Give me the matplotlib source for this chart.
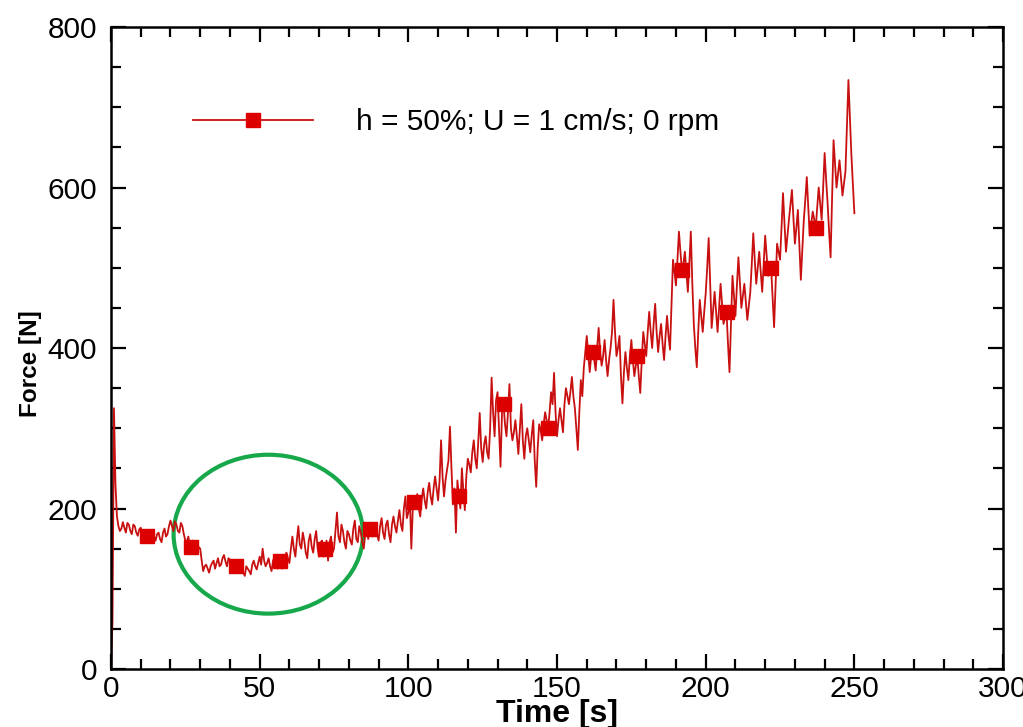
import numpy as np
import matplotlib.pyplot as plt
from matplotlib.patches import Ellipse
from matplotlib.ticker import MultipleLocator

plt.rcParams["font.family"] = ["Liberation Sans", "DejaVu Sans"]

# force readings on whole seconds, t = 0 ... 250 s
force_n = [
    0, 325, 190, 172, 183, 170, 180, 168, 178, 166,
    176, 160, 166, 158, 172, 160, 170, 158, 175, 168,
    185, 172, 180, 170, 178, 160, 165, 152, 158, 145,
    150, 122, 130, 120, 132, 125, 138, 130, 142, 128,
    136, 124, 128, 120, 130, 116, 125, 118, 135, 124,
    140, 150, 128, 138, 122, 140, 125, 134, 128, 145,
    132, 165, 140, 178, 150, 160, 138, 168, 145, 172,
    140, 160, 150, 135, 165, 150, 195, 158, 172, 150,
    168, 155, 185, 158, 170, 150, 178, 174, 165, 180,
    160, 188, 162, 185, 158, 190, 170, 198, 172, 215,
    195, 150, 208, 218, 190, 225, 200, 232, 205, 240,
    210, 285, 215, 248, 302, 205, 170, 215, 250, 198,
    262, 245, 285, 250, 319, 258, 290, 262, 363, 290,
    345, 252, 330, 290, 355, 285, 310, 268, 330, 262,
    300, 270, 310, 227, 305, 285, 320, 300, 345, 369,
    290, 325, 295, 350, 330, 364, 325, 273, 360, 375,
    415, 370, 395, 372, 425, 378, 410, 365, 400, 460,
    390, 415, 331, 395, 360, 410, 365, 390, 344, 420,
    390, 445, 400, 455, 395, 430, 385, 440, 398, 510,
    478, 545, 497, 520, 470, 545, 430, 376, 460, 420,
    468, 537, 425, 470, 420, 480, 430, 445, 370, 490,
    440, 513, 450, 480, 435, 470, 543, 480, 520, 470,
    540, 490, 500, 426, 530, 510, 593, 520, 560, 597,
    530, 572, 485, 560, 613, 540, 570, 550, 600, 560,
    643, 580, 513, 659, 600, 634, 590, 620, 734, 640,
    568,
]

# force readings on the half seconds, t = 0.5 ... 249.5 s
force_half_n = [
    60, 230, 178, 175, 176, 182, 172, 180, 170, 174,
    168, 170, 172, 166, 165, 168, 162, 170, 165, 178,
    178, 184, 172, 182, 168, 158, 155, 160, 150, 152,
    135, 128, 125, 128, 135, 132, 128, 138, 134, 138,
    128, 132, 122, 126, 120, 128, 122, 130, 128, 132,
    130, 135, 132, 128, 135, 130, 138, 125, 140, 138,
    150, 150, 160, 155, 170, 145, 160, 152, 162, 150,
    158, 140, 160, 158, 145, 172, 165, 180, 158, 172,
    160, 175, 162, 178, 158, 168, 162, 180, 172, 168,
    178, 170, 180, 168, 180, 178, 185, 180, 200, 188,
    215, 200, 205, 200, 212, 210, 220, 215, 225, 225,
    235, 240, 235, 260, 250, 225, 235, 200, 222, 240,
    255, 270, 262, 282, 275, 280, 270, 300, 320, 335,
    300, 320, 305, 320, 300, 295, 290, 300, 285, 290,
    285, 292, 260, 275, 298, 305, 310, 320, 330, 320,
    310, 310, 330, 340, 345, 340, 300, 320, 340, 395,
    392, 390, 385, 400, 395, 390, 385, 385, 420, 420,
    400, 365, 370, 375, 390, 385, 378, 365, 385, 405,
    420, 420, 430, 420, 415, 405, 415, 415, 455, 495,
    510, 520, 505, 495, 505, 480, 400, 420, 440, 445,
    500, 480, 448, 445, 450, 455, 438, 405, 430, 465,
    478, 482, 465, 458, 452, 505, 510, 500, 495, 505,
    515, 495, 463, 478, 520, 550, 555, 540, 578, 562,
    550, 528, 522, 585, 575, 555, 560, 575, 580, 600,
    610, 545, 585, 630, 617, 612, 605, 677, 687, 604,
]

# times (s) where the square symbols sit
marker_times = [12, 27, 42, 57, 72, 87, 102, 117, 132, 147, 162, 177, 192, 207, 222, 237]

series_label = "h = 50%; U = 1 cm/s; 0 rpm"
x_ticks = [0, 50, 100, 150, 200, 250, 300]
y_ticks = [0, 200, 400, 600, 800]

# merge the two sets of readings into one time series
t_whole = np.arange(len(force_n), dtype=float)
t_half = t_whole[:-1] + 0.5
time_s = np.concatenate([t_whole, t_half])
force = np.concatenate([force_n, force_half_n])
order = np.argsort(time_s)
time_s = time_s[order]
force = force[order]
marker_idx = list(np.searchsorted(time_s, marker_times))

fig = plt.figure(figsize=(10.23, 7.27), dpi=100)
ax = fig.add_axes([0.1085, 0.0798, 0.872, 0.883])

ax.plot(
    time_s,
    force,
    color="#c81010",
    linewidth=1.3,
    marker="s",
    markersize=10,
    markerfacecolor="#dd0000",
    markeredgecolor="#dd0000",
    markevery=marker_idx,
    label=series_label,
)

ax.add_patch(Ellipse((52.9, 168), 63.7, 198, fill=False, edgecolor="#17a84b", linewidth=3.0))

ax.set_xlim(0, 300)
ax.set_ylim(0, 800)
ax.set_xticks(x_ticks)
ax.set_yticks(y_ticks)
ax.xaxis.set_minor_locator(MultipleLocator(10))
ax.yaxis.set_minor_locator(MultipleLocator(50))

ax.tick_params(which="both", direction="in", top=True, right=True, width=1.6, labelsize=21.5)
ax.tick_params(which="major", length=11)
ax.tick_params(which="minor", length=7)
ax.tick_params(axis="x", pad=4)
ax.tick_params(axis="y", pad=10)
for spine in ax.spines.values():
    spine.set_linewidth(1.8)

ax.set_xlabel("Time [s]", fontsize=23, fontweight="bold")
ax.set_ylabel("Force [N]", fontsize=17.5, fontweight="bold")
ax.xaxis.set_label_coords(0.5, -0.046)
ax.yaxis.set_label_coords(-0.077, 0.475)

ax.legend(
    loc="center left",
    bbox_to_anchor=(0.092, 0.852),
    frameon=False,
    fontsize=21.5,
    handlelength=4.0,
    handletextpad=1.45,
    borderpad=0,
    borderaxespad=0,
    markerscale=0.95,
)

plt.savefig("out.png", dpi=100)
plt.close()
